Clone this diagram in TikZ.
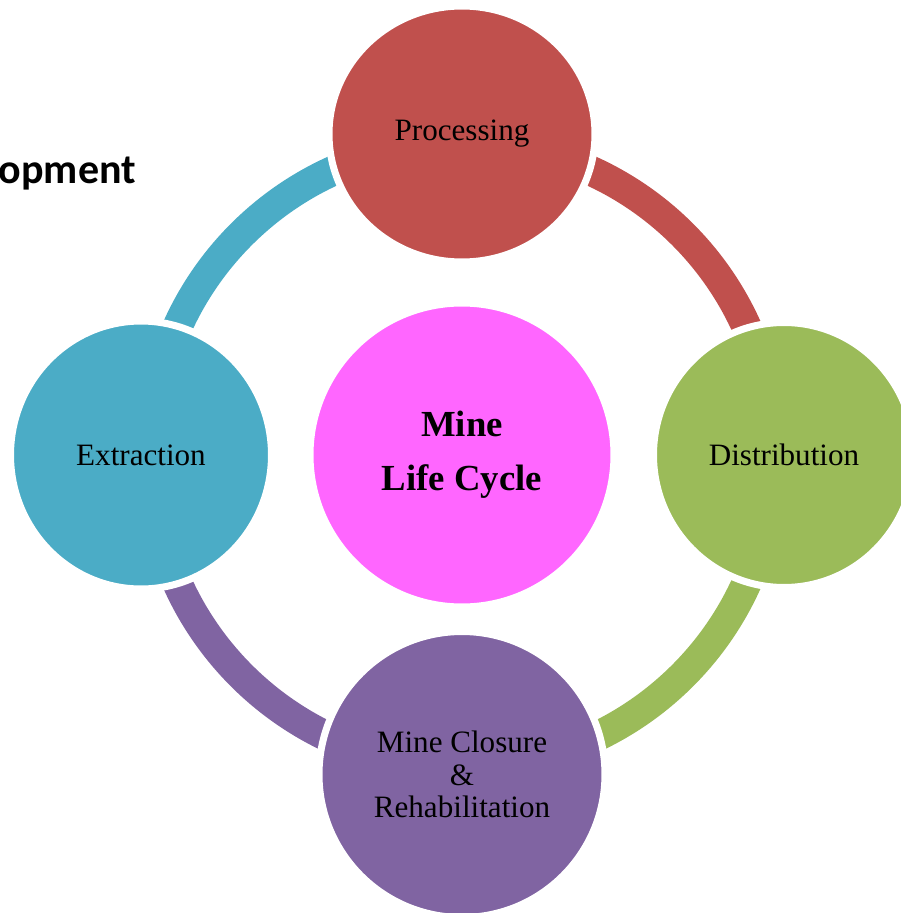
\documentclass[tikz,border=0pt]{standalone}
\usepackage{fontspec}
\setmainfont{Liberation Serif}
\newfontfamily\headfont{Carlito}
\usetikzlibrary{shapes.geometric}

\definecolor{procred}{HTML}{C0504D}
\definecolor{extblue}{HTML}{4BACC6}
\definecolor{distgreen}{HTML}{9BBB59}
\definecolor{closviolet}{HTML}{8064A2}
\definecolor{cyclepink}{HTML}{FF66FF}

\tikzset{
  stage/.style={ellipse, fill=#1, draw=white, line width=4pt, inner sep=0pt,
    align=center, font=\fontsize{17.7}{18.4}\selectfont},
  ring/.style={line width=0.6cm}
}

\begin{document}
\begin{tikzpicture}

        % Fix the page size
        \useasboundingbox (-9.24,-9.16) rectangle (8.76,9.10);

        % Define the radius of the ring
        \def\rad{6.24}

        % Points on the ring
        \foreach \a/\n in {0/E,90/N,180/W,270/S} {
            \coordinate (ring\n) at (\a:\rad);
        }

        % Loop to draw the coloured quarters of the ring
        \foreach \n/\a/\col in {E/0/procred, N/90/extblue, W/180/closviolet, S/270/distgreen} {
            \draw[ring, draw=\col] (ring\n) arc[start angle=\a, delta angle=90, radius=\rad];
        }

        % Stages of the cycle
        \node[stage=procred, minimum width=5.32cm, minimum height=5.12cm] (proc) at (0,6.42) {Processing};
        \node[stage=extblue, minimum width=5.22cm, minimum height=5.36cm] (extr) at (-6.42,0) {Extraction};
        \node[stage=distgreen, minimum width=5.22cm, minimum height=5.30cm] (dist) at (6.44,0) {Distribution};
        \node[stage=closviolet, minimum width=5.72cm, minimum height=5.72cm] (clos) at (0,-6.39) {Mine Closure\\\&\\Rehabilitation};

        % Centre of the cycle
        \node[stage=cyclepink, minimum size=6.08cm, font=\bfseries\fontsize{20.9}{30.6}\selectfont] (cycle) at (0,0) {Mine\\Life Cycle};

        % Heading cut off by the page edge
        \node[anchor=base west, inner sep=0pt, font=\headfont\bfseries\fontsize{23.9}{28}\selectfont] (head) at (-9.27,5.44) {opment};

\end{tikzpicture}
\end{document}
